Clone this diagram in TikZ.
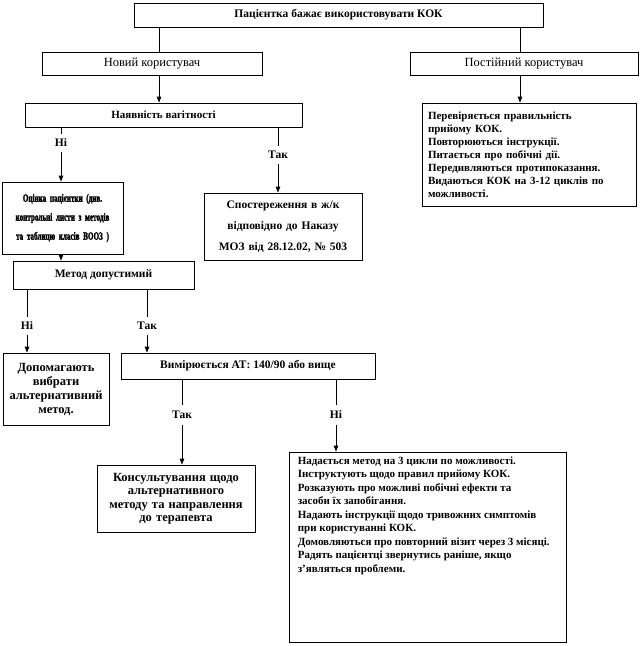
\documentclass[tikz,border=0pt]{standalone}
\usepackage{fontspec}
\setmainfont{Liberation Serif}
\newfontfamily\condfont[FakeStretch=0.65,FakeBold=2]{Liberation Serif}
\usetikzlibrary{arrows.meta,calc}
\begin{document}
\begin{tikzpicture}[x=1pt,y=-1pt,
  box/.style={draw, line width=0.8pt, inner sep=0pt, align=center, font=\bfseries\fontsize{11}{13}\selectfont},
  lbl/.style={inner sep=0pt, minimum height=17pt, font=\bfseries\fontsize{11.5}{13}\selectfont},
  conn/.style={line width=0.8pt},
  arr/.style={line width=0.8pt, -{Triangle[length=6pt,width=4.5pt]}}]
\useasboundingbox (0,0) rectangle (641,646);
\fill[white] (0,0) rectangle (641,646);

\node[box, minimum width=409pt, minimum height=24pt, font=\bfseries\fontsize{11.5}{13}\selectfont] (top) at (338.5,15) {Пацієнтка бажає використовувати КОК};
\node[box, font=\fontsize{12.5}{14}\selectfont, minimum width=220pt, minimum height=23pt] (new) at (152,63.5) {Новий користувач};
\node[box, font=\fontsize{12.5}{14}\selectfont, minimum width=228pt, minimum height=23pt] (reg) at (524,63.5) {Постійний користувач};
\coordinate (xa) at (159,0);
\coordinate (xb) at (520,0);
\draw[conn] (top.south -| xa) -- (new.north -| xa);
\draw[conn] (top.south -| xb) -- (reg.north -| xb);

\node[box, minimum width=277pt, minimum height=24pt] (preg) at (163.5,115) {Наявність вагітності};
\draw[arr] (new.south -| xa) -- (preg.north -| xa);

\node[box, minimum width=214pt, minimum height=103pt, align=left, text width=202pt] (chk) at (529,154.5) {Перевіряється правильність\\прийому КОК.\\Повторюються інструкції.\\Питається про побічні дії.\\Передивляються протипоказання.\\Видаються КОК на 3-12 циклів по\\можливості.};
\draw[arr] (reg.south -| xb) -- (chk.north -| xb);

\node[lbl] (no1) at (61,143) {Ні};
\node[lbl] (yes1) at (278,155) {Так};

\node[box, minimum width=121pt, minimum height=72pt, text width=119pt, font=\condfont\bfseries\fontsize{11}{19}\selectfont] (eval) at (62.5,218) {Оцінка пацієнтки (див.\\контрольні листи з методів\\та таблицю класів ВООЗ )};
\node[box, minimum width=158pt, minimum height=67pt, text width=154pt, font=\bfseries\fontsize{11.5}{21}\selectfont] (obs) at (283,226.5) {Спостереження в ж/к\\відповідно до Наказу\\МОЗ від 28.12.02, № 503};
\draw[conn] (preg.south -| no1) -- (no1.north);
\draw[arr] (no1.south) -- (eval.north -| no1);
\draw[conn] (preg.south -| yes1) -- (yes1.north);
\draw[arr] (yes1.south) -- (obs.north -| yes1);

\node[box, minimum width=181pt, minimum height=28pt, font=\bfseries\fontsize{11.5}{13}\selectfont] (meth) at (103.5,275) {Метод допустимий};
\draw[arr] (eval.south -| no1) -- (meth.north -| no1);

\node[lbl, minimum height=18pt] (no2) at (27,326) {Ні};
\node[lbl, minimum height=18pt] (yes2) at (147,326) {Так};

\node[box, minimum width=106pt, minimum height=72pt, text width=104pt, font=\bfseries\fontsize{12.5}{14}\selectfont] (alt) at (56,389) {Допомагають\\вибрати\\альтернативний\\метод.};
\node[box, minimum width=254pt, minimum height=26pt, font=\bfseries\fontsize{11.5}{13}\selectfont] (bp) at (248,366) {Вимірюється АТ: 140/90 або вище};
\draw[conn] (meth.south -| no2) -- (no2.north);
\draw[arr] (no2.south) -- (alt.north -| no2);
\draw[conn] (meth.south -| yes2) -- (yes2.north);
\draw[arr] (yes2.south) -- (bp.north -| yes2);

\node[lbl, minimum height=20pt] (yes3) at (182,415) {Так};
\node[lbl, minimum height=20pt] (no3) at (336,415) {Ні};

\node[box, minimum width=158pt, minimum height=67pt, text width=156pt, font=\bfseries\fontsize{12.5}{13.5}\selectfont] (cons) at (176,498.5) {Консультування щодо\\альтернативного\\методу та направлення\\до терапевта};
\node[box, minimum width=277pt, minimum height=190pt] (big) at (427.5,547) {};
\node[anchor=north west, inner sep=0pt, align=left, font=\bfseries\fontsize{11}{13.5}\selectfont] (bigtext) at ($(big.north west)+(9,5)$) {Надається метод на 3 цикли по можливості.\\Інструктують щодо правил прийому КОК.\\Розказують про можливі побічні ефекти та\\засоби їх запобігання.\\Надають інструкції щодо тривожних симптомів\\при користуванні КОК.\\Домовляються про повторний візит через 3 місяці.\\Радять пацієнтці звернутись раніше, якщо\\з’являться проблеми.};
\draw[conn] (bp.south -| yes3) -- (yes3.north);
\draw[arr] (yes3.south) -- (cons.north -| yes3);
\draw[conn] (bp.south -| no3) -- (no3.north);
\draw[arr] (no3.south) -- (big.north -| no3);
\end{tikzpicture}
\end{document}
